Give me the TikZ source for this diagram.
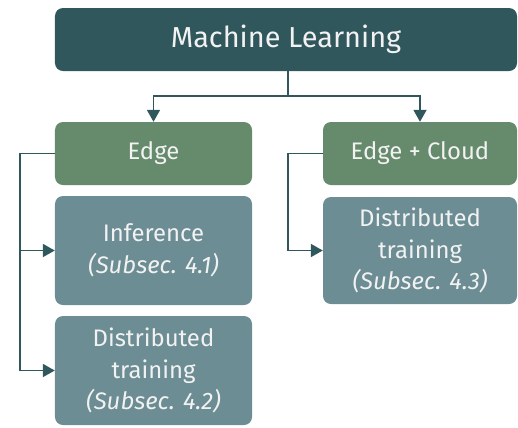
\documentclass[tikz,border=0pt]{standalone}
\usepackage{fontspec}
\setmainfont{Fira Sans}
\usetikzlibrary{arrows.meta}
\definecolor{mldark}{HTML}{30575C}
\definecolor{mlgreen}{HTML}{658A6C}
\definecolor{mlslate}{HTML}{6B8D93}
\definecolor{mltext}{HTML}{F2F2F2}
\begin{document}
\begin{tikzpicture}[x=1bp,y=-1bp,
  box/.style={rounded corners=8bp, inner sep=0pt, align=center, text=mltext, font=\fontsize{24}{32}\selectfont},
  topbox/.style={box, fill=mldark, minimum width=462bp, minimum height=63bp, font=\fontsize{29}{32}\selectfont},
  catbox/.style={box, fill=mlgreen, minimum height=63bp},
  leafbox/.style={box, fill=mlslate},
  conn/.style={draw=mldark, line width=1.8bp, -{Triangle[length=12bp,width=13bp]}}
]
\useasboundingbox (0,0) rectangle (518,427);
\node[topbox] (ml) at (286,39.5) {Machine Learning};
\node[catbox, minimum width=197bp] (edge) at (153.5,153.5) {Edge};
\node[catbox, minimum width=194bp] (ec) at (420,153.5) {Edge + Cloud};
\node[leafbox, minimum width=197bp, minimum height=109bp] (inf) at (153.5,250.5) {Inference\\\textit{(Subsec. 4.1)}};
\node[leafbox, minimum width=197bp, minimum height=109bp] (dt1) at (153.5,370.5) {Distributed\\training\\\textit{(Subsec. 4.2)}};
\node[leafbox, minimum width=194bp, minimum height=107bp] (dt2) at (420,250.5) {Distributed\\training\\\textit{(Subsec. 4.3)}};
\coordinate (split) at (288,96);
\draw[draw=mldark, line width=1.8bp] (ml.south -| split) -- (split);
\draw[conn] (split) -| (edge.north);
\draw[conn] (split) -| (ec.north);
\draw[conn] (edge.west) -- ++(-35,0) |- (inf.west);
\draw[conn] (edge.west) -- ++(-35,0) |- (dt1.west);
\draw[conn] (ec.west) -- ++(-35,0) |- (dt2.west);
\end{tikzpicture}
\end{document}
